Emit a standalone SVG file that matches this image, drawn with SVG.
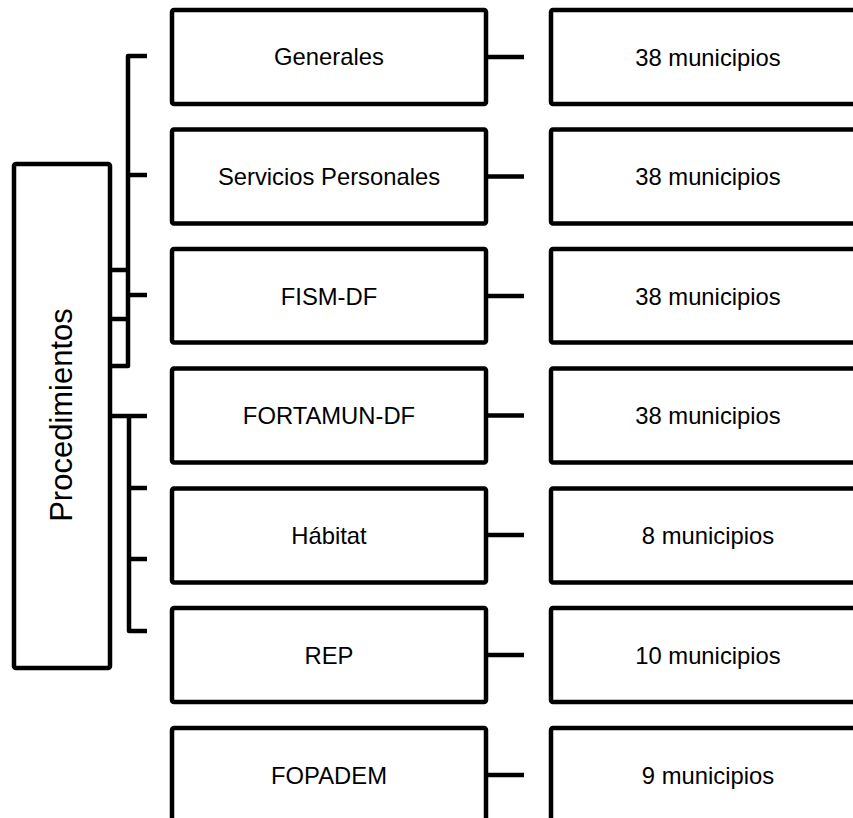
<svg xmlns="http://www.w3.org/2000/svg" width="853" height="818" viewBox="0 0 853 818">
<style>
.box{fill:#fff;stroke:#000;stroke-width:4.5;stroke-linejoin:round}
.ln{fill:none;stroke:#000;stroke-width:4.5;stroke-linejoin:round}
.t{font-family:"Liberation Sans",Arial,sans-serif;font-size:23.8px;fill:#000;text-anchor:middle}
.big{font-family:"Liberation Sans",Arial,sans-serif;font-size:31px;fill:#000;text-anchor:middle}
</style>
<rect width="853" height="818" fill="#fff"/>
<g id="connectors">
<path class="ln" d="M147,56 H128 V366 H110"/>
<path class="ln" d="M128,175 H147 M128,295 H147 M110,270 H128 M110,319 H128"/>
<path class="ln" d="M110,416 H147 M129,416 V631 H147 M129,488 H147 M129,559 H147"/>
<path class="ln" d="M486,57 H524 M486,176.5 H524 M486,296 H524 M486,415.5 H524 M486,535 H524 M486,655 H524 M486,775 H524"/>
</g>
<g id="procedimientos">
<rect class="box" x="14" y="164" width="96" height="504" rx="2"/>
<text class="big" transform="translate(72,415) rotate(-90)">Procedimientos</text>
</g>
<g id="generales"><rect class="box" x="172" y="10" width="314" height="94" rx="2"/><text class="t" x="329" y="65">Generales</text></g>
<g id="servicios"><rect class="box" x="172" y="129.5" width="314" height="94" rx="2"/><text class="t" x="329" y="185">Servicios Personales</text></g>
<g id="fism"><rect class="box" x="172" y="249" width="314" height="93.5" rx="2"/><text class="t" x="329" y="304.5">FISM-DF</text></g>
<g id="fortamun"><rect class="box" x="172" y="368.5" width="314" height="94" rx="2"/><text class="t" x="329" y="424">FORTAMUN-DF</text></g>
<g id="habitat"><rect class="box" x="172" y="488.5" width="314" height="94" rx="2"/><text class="t" x="329" y="544">Hábitat</text></g>
<g id="rep"><rect class="box" x="172" y="608" width="314" height="94" rx="2"/><text class="t" x="329" y="664">REP</text></g>
<g id="fopadem"><rect class="box" x="172" y="728" width="314" height="94" rx="2"/><text class="t" x="329" y="783.5">FOPADEM</text></g>
<g id="m1"><rect class="box" x="551" y="10" width="314" height="94" rx="2"/><text class="t" x="708" y="65.5">38 municipios</text></g>
<g id="m2"><rect class="box" x="551" y="129.5" width="314" height="94" rx="2"/><text class="t" x="708" y="185">38 municipios</text></g>
<g id="m3"><rect class="box" x="551" y="249" width="314" height="93.5" rx="2"/><text class="t" x="708" y="304.5">38 municipios</text></g>
<g id="m4"><rect class="box" x="551" y="368.5" width="314" height="94" rx="2"/><text class="t" x="708" y="424">38 municipios</text></g>
<g id="m5"><rect class="box" x="551" y="488.5" width="314" height="94" rx="2"/><text class="t" x="708" y="544">8 municipios</text></g>
<g id="m6"><rect class="box" x="551" y="608" width="314" height="94" rx="2"/><text class="t" x="708" y="664">10 municipios</text></g>
<g id="m7"><rect class="box" x="551" y="728" width="314" height="94" rx="2"/><text class="t" x="708" y="783.5">9 municipios</text></g>
</svg>
